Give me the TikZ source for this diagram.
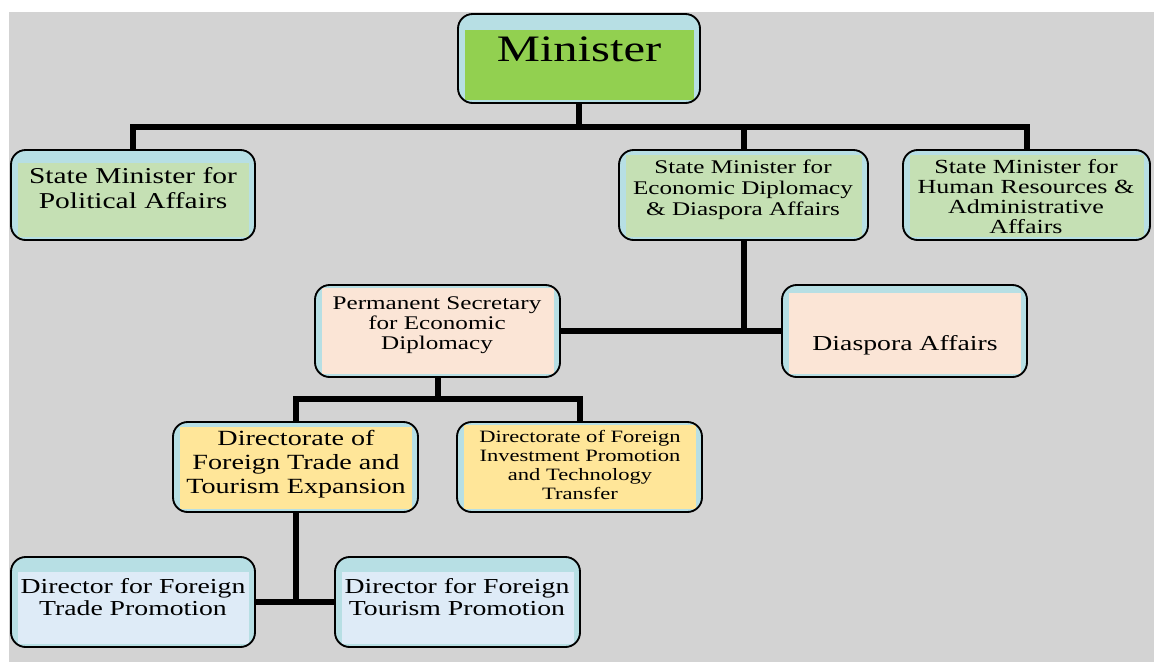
\documentclass[tikz,border=0pt]{standalone}
\usepackage{fontspec}
\setmainfont{Liberation Serif}[FakeStretch=1.3]
\usetikzlibrary{fit}

\definecolor{canvasgrey}{RGB}{211,211,211}
\definecolor{rimblue}{RGB}{183,223,228}
\definecolor{leafgreen}{RGB}{146,208,80}
\definecolor{sagegreen}{RGB}{197,224,180}
\definecolor{peach}{RGB}{251,229,214}
\definecolor{sand}{RGB}{255,230,153}
\definecolor{paleblue}{RGB}{222,235,247}

\tikzset{
  % rounded frame with a coloured panel inset (#1 colour, #2 top inset)
  orgbox/.style 2 args={draw=black, line width=1.4pt, fill=rimblue,
    rounded corners=11pt, inner sep=0pt,
    path picture={\fill[#1, sharp corners]
      ([xshift=5.25pt,yshift=-#2]path picture bounding box.north west)
      rectangle ([xshift=-4.5pt,yshift=2.25pt]path picture bounding box.south east);}},
  boxtext/.style={anchor=north, inner sep=0pt, align=center, text=black},
  link/.style={line width=4.5pt, black, line join=miter},
}

\begin{document}
\begin{tikzpicture}[x=0.75pt,y=-0.75pt]
\useasboundingbox (0,0) rectangle (1154,662);
\fill[canvasgrey] (9,12) rectangle (1154,662);

% boxes
\node[orgbox={leafgreen}{12pt},  fit={(458,14) (700,103)}]   (min) {};
\node[orgbox={sagegreen}{9.75pt}, fit={(11,150) (255,240)}]  (pol) {};
\node[orgbox={sagegreen}{3.75pt}, fit={(619,150) (868,240)}] (eco) {};
\node[orgbox={sagegreen}{3.75pt}, fit={(903,150) (1150,240)}] (hr) {};
\node[orgbox={peach}{2.25pt},     fit={(315,285) (560,377)}] (ps) {};
\node[orgbox={peach}{6pt},        fit={(782,285) (1027,377)}] (dia) {};
\node[orgbox={sand}{3.75pt},      fit={(173,422) (418,512)}] (dt) {};
\node[orgbox={sand}{2.25pt},      fit={(457,422) (702,512)}] (di) {};
\node[orgbox={paleblue}{11.25pt}, fit={(11,557) (255,647)}]  (tp) {};
\node[orgbox={paleblue}{11.25pt}, fit={(335,557) (580,647)}] (tt) {};

% texts
\node[boxtext, font=\fontsize{28}{32}\selectfont] (min-t) at (579,37) {Minister};
\node[boxtext, font=\fontsize{17}{18.75}\selectfont] (pol-t) at (133,167)
  {State Minister for\\Political Affairs};
\node[boxtext, font=\fontsize{14.5}{15.75}\selectfont] (eco-t) at (743,160)
  {State Minister for\\Economic Diplomacy\\\& Diaspora Affairs};
\node[boxtext, font=\fontsize{15}{15}\selectfont] (hr-t) at (1026,159.5)
  {State Minister for\\Human Resources \&\\Administrative\\Affairs};
\node[boxtext, font=\fontsize{14.5}{15}\selectfont] (ps-t) at (437,296)
  {Permanent Secretary\\for Economic\\Diplomacy};
\node[boxtext, font=\fontsize{16}{18}\selectfont] (dia-t) at (905,335)
  {Diaspora Affairs};
\node[boxtext, font=\fontsize{16.25}{18}\selectfont] (dt-t) at (296,430)
  {Directorate of\\Foreign Trade and\\Tourism Expansion};
\node[boxtext, font=\fontsize{13}{14.25}\selectfont] (di-t) at (580,430)
  {Directorate of Foreign\\Investment Promotion\\and Technology\\Transfer};
\node[boxtext, font=\fontsize{16}{16.5}\selectfont] (tp-t) at (133,578)
  {Director for Foreign\\Trade Promotion};
\node[boxtext, font=\fontsize{16}{16.5}\selectfont] (tt-t) at (457,578)
  {Director for Foreign\\Tourism Promotion};

% connectors
\coordinate (busA) at (0,127);
\coordinate (busB) at (0,399);
\draw[link] (min.south) -- (min.south |- busA);
\draw[link] (pol.north) |- (hr.north |- busA) -- (hr.north);
\draw[link] (eco.north) -- (eco.north |- busA);
\draw[link] (eco.south) -- (eco.south |- ps.east);
\draw[link] (ps.east) -- (dia.west);
\draw[link] (ps.south) -- (ps.south |- busB);
\draw[link] (dt.north) |- (di.north |- busB) -- (di.north);
\draw[link] (dt.south) -- (dt.south |- tp.east);
\draw[link] (tp.east) -- (tt.west);
\end{tikzpicture}
\end{document}
